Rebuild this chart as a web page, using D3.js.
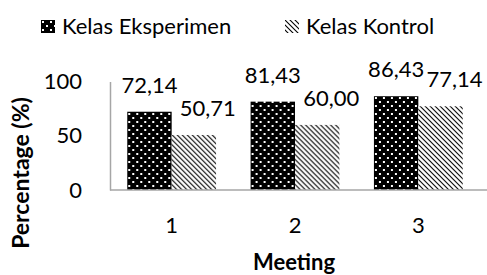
<!DOCTYPE html>
<html>
<head>
<meta charset="utf-8">
<script src="https://cdn.jsdelivr.net/npm/d3@7"></script>
<style>
  body { margin: 0; background: #fff; }
  svg { display: block; font-family: Lato, "Open Sans", sans-serif; }
</style>
</head>
<body>
<div id="chart"></div>
<script>
// chart data
const meetings = ['1', '2', '3'];
const seriesNames = ['Kelas Eksperimen', 'Kelas Kontrol'];
const eksperimen = [72.14, 81.43, 86.43];
const kontrol = [50.71, 60.00, 77.14];
const yTicks = [0, 50, 100];

const W = 487, H = 275;
const plot = {left: 110, right: 480, top: 81.5, bottom: 190};

const svg = d3.select('#chart').append('svg')
  .attr('width', W)
  .attr('height', H);

// fill patterns
const defs = svg.append('defs');
const dots = defs.append('pattern')
  .attr('id', 'dots')
  .attr('patternUnits', 'userSpaceOnUse')
  .attr('width', 8).attr('height', 8);
dots.append('rect').attr('width', 8).attr('height', 8).attr('fill', '#000');
dots.append('rect').attr('x', 1).attr('y', 1).attr('width', 2).attr('height', 2).attr('fill', '#fff');
dots.append('rect').attr('x', 5).attr('y', 5).attr('width', 2).attr('height', 2).attr('fill', '#fff');

const hatch = defs.append('pattern')
  .attr('id', 'hatch')
  .attr('patternUnits', 'userSpaceOnUse')
  .attr('width', 5).attr('height', 5);
hatch.append('rect').attr('width', 5).attr('height', 5).attr('fill', '#fff');
hatch.append('path')
  .attr('d', 'M0,0L5,5M-1,4L1,6M4,-1L6,1')
  .attr('stroke', '#000')
  .attr('stroke-width', 1.1);

const fills = ['url(#dots)', 'url(#hatch)'];

const x0 = d3.scaleBand()
  .domain(meetings)
  .range([plot.left, plot.right])
  .paddingInner(0.28)
  .paddingOuter(0.14);

const x1 = d3.scaleBand()
  .domain(seriesNames)
  .range([0, x0.bandwidth()]);

const y = d3.scaleLinear()
  .domain([0, 100])
  .range([plot.bottom, plot.top]);

const rows = meetings.map((m, i) => ({
  meeting: m,
  values: [
    {name: seriesNames[0], value: eksperimen[i], k: 0},
    {name: seriesNames[1], value: kontrol[i], k: 1}
  ]
}));

// bars
const groups = svg.selectAll('.group')
  .data(rows)
  .enter().append('g')
  .attr('class', 'group')
  .attr('transform', d => `translate(${x0(d.meeting)},0)`);

groups.selectAll('rect')
  .data(d => d.values)
  .enter().append('rect')
  .attr('x', d => x1(d.name))
  .attr('y', d => y(d.value))
  .attr('width', x1.bandwidth())
  .attr('height', d => y(0) - y(d.value))
  .attr('fill', d => fills[d.k]);

// value labels
groups.selectAll('.val')
  .data(d => d.values)
  .enter().append('text')
  .attr('class', 'val')
  .attr('x', d => x1(d.name) + x1.bandwidth() / 2 + (d.k === 1 ? 14 : 0))
  .attr('y', d => y(d.value) - 19)
  .attr('text-anchor', 'middle')
  .style('font-size', '22px')
  .style('fill', '#000')
  .text(d => d3.format('.2f')(d.value).replace('.', ','));

// axes
const yAxis = svg.append('g')
  .attr('transform', `translate(${plot.left},0)`)
  .call(d3.axisLeft(y).tickValues(yTicks).tickSize(0).tickPadding(28));
yAxis.select('.domain').attr('stroke', '#a6a6a6').attr('stroke-width', 1.5);
yAxis.selectAll('text').style('font-size', '22px').style('font-family', 'Lato').attr('fill', '#000');

const xAxis = svg.append('g')
  .attr('transform', `translate(0,${plot.bottom})`)
  .call(d3.axisBottom(x0).tickSize(0).tickPadding(27));
xAxis.select('.domain')
  .attr('d', `M${plot.left},0H${W}`)
  .attr('stroke', '#a6a6a6').attr('stroke-width', 1.5);
xAxis.selectAll('text').style('font-size', '22px').style('font-family', 'Lato').attr('fill', '#000');

// axis titles
svg.append('text')
  .attr('x', 294).attr('y', 270)
  .attr('text-anchor', 'middle')
  .style('font-size', '22px').style('font-weight', 'bold')
  .text('Meeting');

svg.append('text')
  .attr('transform', 'translate(29,173) rotate(-90)')
  .attr('text-anchor', 'middle')
  .style('font-size', '23px').style('font-weight', 'bold')
  .text('Percentage (%)');

// legend
const legendX = [41, 285];
const legend = svg.selectAll('.legend')
  .data(seriesNames)
  .enter().append('g')
  .attr('class', 'legend')
  .attr('transform', (d, i) => `translate(${legendX[i]},20)`);
legend.append('rect')
  .attr('width', 14).attr('height', 13)
  .attr('fill', (d, i) => fills[i]);
legend.append('text')
  .attr('x', 21).attr('y', 14)
  .style('font-size', '22px')
  .text(d => d);
</script>
</body>
</html>
